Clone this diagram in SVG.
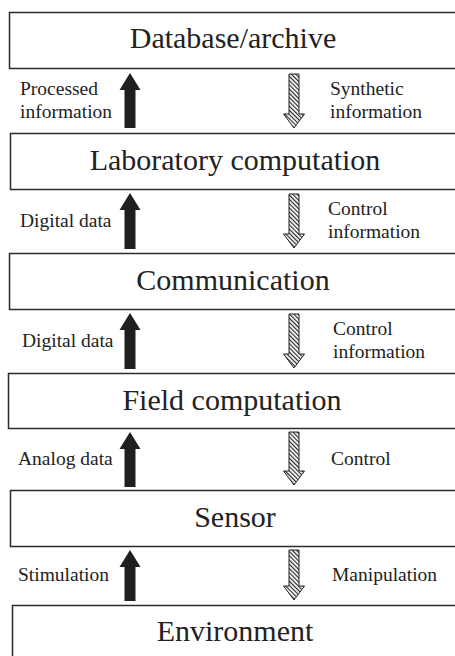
<svg xmlns="http://www.w3.org/2000/svg" width="455" height="656" viewBox="0 0 455 656">
<style>
.box{fill:#fff;stroke:#2a2a2a;stroke-width:1.5}
.title{font-family:'Liberation Serif','Times New Roman',serif;font-size:30px;fill:#222;text-anchor:middle}
.lbl{font-family:'Liberation Serif','Times New Roman',serif;font-size:19.5px;fill:#222}
.up{fill:#1e201d;stroke:none}
.down{fill:url(#hatch);stroke:#222;stroke-width:1}
</style>
<defs>
<pattern id="hatch" patternUnits="userSpaceOnUse" width="3" height="3" patternTransform="rotate(-45)">
<rect width="3" height="3" fill="#fff"/>
<line x1="0.6" y1="0" x2="0.6" y2="3" stroke="#2a2a2a" stroke-width="1.2"/>
</pattern>
</defs>
<rect width="455" height="656" fill="#fff"/>
<g id="database"><rect class="box" x="9.5" y="12.5" width="460" height="56"/><text class="title" x="233" y="48">Database/archive</text></g>
<g id="laboratory"><rect class="box" x="10.5" y="133.5" width="460" height="56"/><text class="title" x="235" y="170">Laboratory computation</text></g>
<g id="communication"><rect class="box" x="9.5" y="253.5" width="460" height="56"/><text class="title" x="233" y="290">Communication</text></g>
<g id="field"><rect class="box" x="8.5" y="373.5" width="460" height="55"/><text class="title" x="232" y="410">Field computation</text></g>
<g id="sensor"><rect class="box" x="10.5" y="490.5" width="460" height="56"/><text class="title" x="235" y="527">Sensor</text></g>
<g id="environment"><rect class="box" x="12.5" y="605.5" width="460" height="60"/><text class="title" x="235" y="641">Environment</text></g>
<g id="connectors">
<path class="up" d="M130,73 L140.5,90 L135.5,90 L135.5,128 L124.5,128 L124.5,90 L119.5,90 Z"/>
<path class="down" d="M289,74 L299,74 L299,114 L304.5,114 L294,128 L283.5,114 L289,114 Z"/>
<path class="up" d="M130,193 L140.5,210 L135.5,210 L135.5,249 L124.5,249 L124.5,210 L119.5,210 Z"/>
<path class="down" d="M289,194 L299,194 L299,234 L304.5,234 L294,248 L283.5,234 L289,234 Z"/>
<path class="up" d="M130,313 L140.5,330 L135.5,330 L135.5,369 L124.5,369 L124.5,330 L119.5,330 Z"/>
<path class="down" d="M289,314 L299,314 L299,354 L304.5,354 L294,368 L283.5,354 L289,354 Z"/>
<path class="up" d="M130,432 L140.5,449 L135.5,449 L135.5,487 L124.5,487 L124.5,449 L119.5,449 Z"/>
<path class="down" d="M289,432 L299,432 L299,471 L304.5,471 L294,485 L283.5,471 L289,471 Z"/>
<path class="up" d="M130,550 L140.5,567 L135.5,567 L135.5,601 L124.5,601 L124.5,567 L119.5,567 Z"/>
<path class="down" d="M289,550 L299,550 L299,586 L304.5,586 L294,600 L283.5,586 L289,586 Z"/>
</g>
<g id="labels">
<text class="lbl" x="20" y="95">Processed</text>
<text class="lbl" x="20" y="118">information</text>
<text class="lbl" x="330" y="95">Synthetic</text>
<text class="lbl" x="330" y="118">information</text>
<text class="lbl" x="20" y="227">Digital data</text>
<text class="lbl" x="328" y="215">Control</text>
<text class="lbl" x="328" y="238">information</text>
<text class="lbl" x="22" y="347">Digital data</text>
<text class="lbl" x="333" y="335">Control</text>
<text class="lbl" x="333" y="358">information</text>
<text class="lbl" x="18" y="465">Analog data</text>
<text class="lbl" x="331" y="465">Control</text>
<text class="lbl" x="18" y="581">Stimulation</text>
<text class="lbl" x="332" y="581">Manipulation</text>
</g>
</svg>
